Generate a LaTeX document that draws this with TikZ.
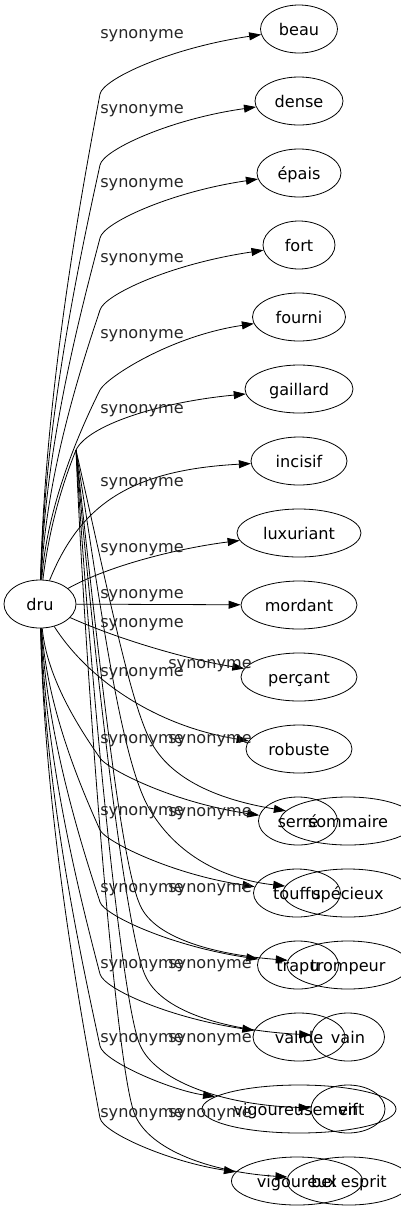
\documentclass[tikz,border=0pt]{standalone}
\usepackage{fontspec}
\setmainfont{DejaVu Sans}
\usetikzlibrary{arrows.meta, shapes.geometric}

\tikzset{
  word/.style={draw, ellipse, line width=0.8pt, inner sep=0pt, minimum height=48pt,
    text height=15pt, text depth=3pt, font=\fontsize{16.1}{19}\selectfont},
  lab/.style={inner sep=0pt, text height=15pt, text depth=3pt,
    font=\fontsize{16.1}{19}\selectfont, text=black!85},
  syn/.style={line width=0.8pt, -{Triangle[length=12pt, width=8pt]}}
}

\begin{document}
\begin{tikzpicture}[x=1pt, y=-1pt]
    \useasboundingbox (0,0) rectangle (401,1211);

    % head word
    \node[word, minimum width=72pt] (dru) at (40,604) {dru};

    % first column of synonyms
    \node[word, minimum width=77pt] (beau) at (299,29) {beau};
    \node[word, minimum width=88pt] (dense) at (299,101) {dense};
    \node[word, minimum width=84pt] (epais) at (299,173) {épais};
    \node[word, minimum width=72pt] (fort) at (299,245) {fort};
    \node[word, minimum width=93pt] (fourni) at (299,317) {fourni};
    \node[word, minimum width=108pt] (gaillard) at (299,389) {gaillard};
    \node[word, minimum width=96pt] (incisif) at (299,461) {incisif};
    \node[word, minimum width=124pt] (luxuriant) at (299,533) {luxuriant};
    \node[word, minimum width=116pt] (mordant) at (299,605) {mordant};
    \node[word, minimum width=116pt] (percant) at (299,677) {perçant};
    \node[word, minimum width=106pt] (robuste) at (299,749) {robuste};
    \node[word, minimum width=79pt] (serre) at (298,821) {serré};
    \node[word, minimum width=87pt] (touffu) at (297,893) {touffu};
    \node[word, minimum width=81pt] (trapu) at (298,965) {trapu};
    \node[word, minimum width=92pt] (valide) at (299,1037) {valide};
    \node[word, minimum width=194pt] (vigoureusement) at (299,1109) {vigoureusement};
    \node[word, minimum width=131pt] (vigoureux) at (297,1181) {vigoureux};

    % second column, lying over the first
    \node[word, minimum width=136pt] (sommaire) at (348,821) {sommaire};
    \node[word, minimum width=130pt] (specieux) at (348,893) {spécieux};
    \node[word, minimum width=122pt] (trompeur) at (348,965) {trompeur};
    \node[word, minimum width=73pt] (vain) at (348,1037) {vain};
    \node[word, minimum width=74pt] (vif) at (348,1109) {vif};
    \node[word, minimum width=124pt] (belesprit) at (349,1181) {bel esprit};

    \coordinate (fork) at (76,450);

    % edges going up
    \draw[syn] (dru) .. controls (45,390) and (82,190) .. (100,94) .. controls (103,79) and (170,48) .. (beau);
    \draw[syn] (dru) .. controls (45,415) and (82,248) .. (100,165) .. controls (103,150) and (170,119) .. (dense);
    \draw[syn] (dru) .. controls (45,444) and (82,307) .. (100,238) .. controls (103,223) and (170,192) .. (epais);
    \draw[syn] (dru) .. controls (46,473) and (82,364) .. (100,310) .. controls (104,295) and (170,264) .. (fort);
    \draw[syn] (dru) .. controls (47,505) and (80,430) .. (100,390) .. controls (106,378) and (170,336) .. (fourni);
    \draw[syn] (dru) .. controls (50,520) and (66,475) .. (fork) .. controls (88,425) and (160,402) .. (gaillard);
    \draw[syn] (dru) .. controls (80,505) and (130,470) .. (incisif);
    \draw[syn] (dru) .. controls (110,565) and (180,548) .. (luxuriant);
    \draw[syn] (dru) -- (mordant);

    % edges going down
    \draw[syn] (dru) .. controls (120,640) and (190,660) .. (percant);
    \draw[syn] (dru) .. controls (85,675) and (150,725) .. (robuste);
    \draw[syn] (dru) .. controls (47,680) and (82,732) .. (100,758) .. controls (106,768) and (170,802) .. (serre);
    \draw[syn] (dru) .. controls (47,709) and (82,790) .. (100,830) .. controls (105,841) and (170,874) .. (touffu);
    \draw[syn] (dru) .. controls (47,738) and (82,847) .. (100,902) .. controls (104,915) and (170,946) .. (trapu);
    \draw[syn] (dru) .. controls (46,766) and (82,905) .. (100,974) .. controls (104,989) and (170,1018) .. (valide);
    \draw[syn] (dru) .. controls (45,795) and (82,962) .. (100,1046) .. controls (103,1061) and (170,1090) .. (vigoureusement);
    \draw[syn] (dru) .. controls (45,824) and (82,1020) .. (100,1118) .. controls (103,1133) and (170,1162) .. (vigoureux);

    % edges from the fork
    \draw[syn] (fork) .. controls (110,600) and (130,700) .. (150,740) .. controls (170,780) and (220,800) .. (sommaire);
    \draw[syn] (fork) .. controls (100,600) and (120,760) .. (150,810) .. controls (180,860) and (230,880) .. (specieux);
    \draw[syn] (fork) .. controls (98,650) and (120,860) .. (140,905) .. controls (155,940) and (220,955) .. (trompeur);
    \draw[syn] (fork) .. controls (93,650) and (125,930) .. (145,975) .. controls (160,1010) and (220,1030) .. (vain);
    \draw[syn] (fork) .. controls (88,650) and (120,1000) .. (140,1045) .. controls (155,1080) and (220,1105) .. (vif);
    \draw[syn] (fork) .. controls (84,650) and (115,1070) .. (135,1115) .. controls (150,1150) and (210,1172) .. (belesprit);

    % edge labels
    \node[lab] (la-beau) at (142,32) {synonyme};
    \node[lab] (la-dense) at (142,107) {synonyme};
    \node[lab] (la-epais) at (142,181) {synonyme};
    \node[lab] (la-fort) at (142,256) {synonyme};
    \node[lab] (la-fourni) at (142,332) {synonyme};
    \node[lab] (la-gaillard) at (142,407) {synonyme};
    \node[lab] (la-incisif) at (142,480) {synonyme};
    \node[lab] (la-luxuriant) at (142,546) {synonyme};
    \node[lab] (la-mordant) at (142,592) {synonyme};
    \node[lab] (lb-mordant) at (142,621) {synonyme};
    \node[lab] (la-percant) at (142,670) {synonyme};
    \node[lab] (lb-percant) at (210,662) {synonyme};
    \node[lab] (la-robuste) at (142,737) {synonyme};
    \node[lab] (lb-robuste) at (210,737) {synonyme};
    \node[lab] (la-serre) at (142,809) {synonyme};
    \node[lab] (lb-serre) at (210,810) {synonyme};
    \node[lab] (la-touffu) at (142,886) {synonyme};
    \node[lab] (lb-touffu) at (210,886) {synonyme};
    \node[lab] (la-trapu) at (142,962) {synonyme};
    \node[lab] (lb-trapu) at (210,962) {synonyme};
    \node[lab] (la-valide) at (142,1036) {synonyme};
    \node[lab] (lb-valide) at (210,1036) {synonyme};
    \node[lab] (la-vig) at (142,1111) {synonyme};
    \node[lab] (lb-vig) at (210,1111) {synonyme};
\end{tikzpicture}
\end{document}
